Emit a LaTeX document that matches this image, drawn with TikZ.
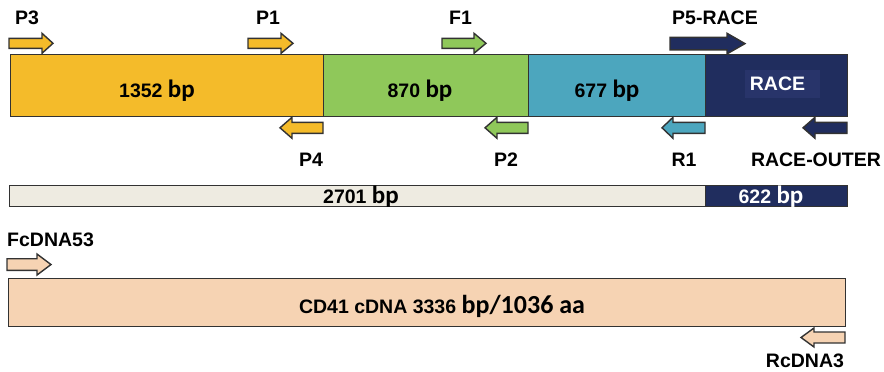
\documentclass[tikz,border=0pt]{standalone}
\usepackage{fontspec}
\setmainfont{Liberation Sans}
\newfontfamily\bpfont{Carlito}

\definecolor{cdline}{RGB}{50,50,50}
\definecolor{cdyellow}{RGB}{244,187,42}
\definecolor{cdgreen}{RGB}{143,200,90}
\definecolor{cdblue}{RGB}{76,166,190}
\definecolor{cdnavy}{RGB}{32,45,94}
\definecolor{cdrace}{RGB}{40,52,106}
\definecolor{cdbeige}{RGB}{238,235,225}
\definecolor{cdpeach}{RGB}{246,211,179}

% block arrow: colour, tail x, head base x, tip x, mid y, half shaft, half head
\newcommand{\primerarrow}[7]{%
  \draw[primer,fill=#1] (#2,{#5-#6}) -- (#3,{#5-#6}) -- (#3,{#5-#7}) -- (#4,#5)
    -- (#3,{#5+#7}) -- (#3,{#5+#6}) -- (#2,{#5+#6}) -- cycle;}
\newcommand{\bp}{{\bpfont\fontsize{25}{25}\selectfont bp}}

\begin{document}
\begin{tikzpicture}[x=1pt,y=-1pt]
	\tikzset{seg/.style={draw=cdline,line width=1.4pt,anchor=north west,inner sep=0pt}}
	\tikzset{lbl/.style={font=\fontsize{19.5}{20}\selectfont\bfseries,inner sep=0pt,anchor=base}}
	\tikzset{primer/.style={draw=cdline,line width=1.4pt,line join=miter}}
	\useasboundingbox (0,0) rectangle (884,372);

	% fragments
	\node[seg,fill=cdyellow,minimum width=313pt,minimum height=62pt] (s1352) at (10,54) {};
	\node[seg,fill=cdgreen,minimum width=205pt,minimum height=62pt] (s870) at (323,54) {};
	\node[seg,fill=cdblue,minimum width=177pt,minimum height=62pt] (s677) at (528,54) {};
	\node[seg,fill=cdnavy,minimum width=142pt,minimum height=62pt] (srace) at (705,54) {};
	\node[fill=cdrace,inner sep=0pt,anchor=north west,minimum width=75pt,minimum height=28pt] (racebox) at (745,70) {};
	\node[lbl] (t1352) at (157,97) {1352 \bp};
	\node[lbl] (t870) at (420,97) {870 \bp};
	\node[lbl] (t677) at (607,97) {677 \bp};
	\node[lbl,text=white] (trace) at (777.5,90) {RACE};

	% primers on the fragments
	\primerarrow{cdyellow}{9}{42}{53}{43.3}{5}{10}
	\primerarrow{cdyellow}{248}{281}{293}{43.3}{5}{10}
	\primerarrow{cdgreen}{442}{474}{486}{43.3}{5}{10}
	\primerarrow{cdnavy}{670}{727}{745}{43.6}{6.3}{10.3}
	\primerarrow{cdyellow}{323}{292}{280}{127.8}{5.5}{10.5}
	\primerarrow{cdgreen}{528}{497}{485}{127.8}{5.5}{10.5}
	\primerarrow{cdblue}{705}{673}{662}{127.8}{5.5}{10.5}
	\primerarrow{cdnavy}{847}{815}{803}{127.8}{5.5}{10.5}
	\node[lbl] (p3) at (27,24) {P3};
	\node[lbl] (p1) at (268,24) {P1};
	\node[lbl] (f1) at (460.5,24) {F1};
	\node[lbl] (p5race) at (715,24) {P5-RACE};
	\node[lbl] (p4) at (311,166) {P4};
	\node[lbl] (p2) at (506,166) {P2};
	\node[lbl] (r1) at (684,166) {R1};
	\node[lbl] (raceouter) at (816,166) {RACE-OUTER};

	% assembled
	\node[seg,fill=cdbeige,minimum width=696pt,minimum height=21pt] (s2701) at (9,185) {};
	\node[seg,fill=cdnavy,minimum width=142pt,minimum height=21pt] (s622) at (705,185) {};
	\node[lbl] (t2701) at (361,203) {2701 \bp};
	\node[lbl,text=white] (t622) at (771,203) {622 \bp};

	% full cDNA
	\node[seg,fill=cdpeach,minimum width=837pt,minimum height=48pt] (scdna) at (8,278) {};
	\node[lbl] (tcdna) at (442,313) {CD41 cDNA 3336 {\bpfont\fontsize{26}{26}\selectfont bp/1036 aa}};
	\primerarrow{cdpeach}{7}{37}{51}{264.5}{5.8}{10.5}
	\primerarrow{cdpeach}{845}{814}{801}{337.5}{5.5}{9.5}
	\node[lbl,anchor=base west] (fcdna) at (7,246) {FcDNA53};
	\node[lbl] (rcdna) at (805,367) {RcDNA3};
\end{tikzpicture}
\end{document}
